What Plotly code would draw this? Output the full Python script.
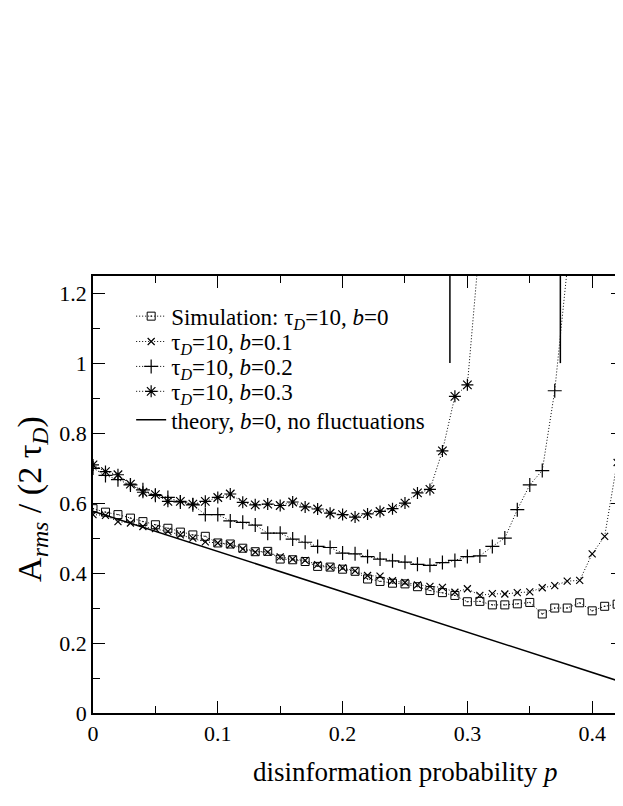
import plotly.graph_objects as go

# disinformation probability values (step 0.01)
p = [0.00, 0.01, 0.02, 0.03, 0.04, 0.05, 0.06, 0.07, 0.08, 0.09,
     0.10, 0.11, 0.12, 0.13, 0.14, 0.15, 0.16, 0.17, 0.18, 0.19,
     0.20, 0.21, 0.22, 0.23, 0.24, 0.25, 0.26, 0.27, 0.28, 0.29,
     0.30, 0.31, 0.32, 0.33, 0.34, 0.35, 0.36, 0.37, 0.38, 0.39,
     0.40, 0.41, 0.42, 0.43]

# simulation, tau_D=10, b=0
a_b0 = [0.584, 0.574, 0.567, 0.557, 0.547, 0.538, 0.528, 0.517, 0.509, 0.505,
        0.486, 0.483, 0.471, 0.461, 0.462, 0.440, 0.438, 0.433, 0.419, 0.417,
        0.411, 0.405, 0.383, 0.376, 0.371, 0.369, 0.361, 0.350, 0.344, 0.336,
        0.318, 0.319, 0.309, 0.309, 0.312, 0.316, 0.283, 0.300, 0.300, 0.315,
        0.292, 0.305, 0.311]

# tau_D=10, b=0.1
a_b1 = [0.567, 0.565, 0.547, 0.543, 0.533, 0.527, 0.519, 0.509, 0.500, 0.489,
        0.486, 0.481, 0.469, 0.460, 0.460, 0.446, 0.440, 0.436, 0.424, 0.417,
        0.415, 0.406, 0.393, 0.391, 0.378, 0.373, 0.366, 0.362, 0.359, 0.345,
        0.355, 0.336, 0.341, 0.340, 0.344, 0.346, 0.358, 0.364, 0.377, 0.379,
        0.455, 0.505, 0.716, 0.960]

# tau_D=10, b=0.2
a_b2 = [0.700, 0.679, 0.667, 0.652, 0.638, 0.622, 0.616, 0.603, 0.595, 0.567,
        0.567, 0.549, 0.545, 0.537, 0.514, 0.514, 0.497, 0.488, 0.476, 0.473,
        0.457, 0.455, 0.447, 0.440, 0.435, 0.431, 0.425, 0.422, 0.430, 0.436,
        0.447, 0.449, 0.476, 0.500, 0.581, 0.652, 0.693, 0.921, 1.270]

# tau_D=10, b=0.3
a_b3 = [0.709, 0.690, 0.681, 0.654, 0.631, 0.624, 0.605, 0.605, 0.597, 0.605,
        0.616, 0.626, 0.602, 0.595, 0.597, 0.593, 0.603, 0.589, 0.583, 0.571,
        0.567, 0.560, 0.569, 0.576, 0.584, 0.600, 0.629, 0.639, 0.749, 0.905,
        0.938, 1.350]

# theory, b=0, no fluctuations
theory_p = [0.0, 0.425]
theory_a = [0.577, 0.087]

# vertical marks near the top
vline_p = [0.286, 0.3745]
vline_a = [1.0, 1.3]

font_family = "Liberation Serif"

dotted = dict(color="black", width=1, dash="1px,2px")

fig = go.Figure()

fig.add_trace(go.Scatter(
    x=p[:len(a_b0)], y=a_b0, mode="lines+markers", legend="legend",
    name="Simulation: τ<sub><i>D</i></sub>=10, <i>b</i>=0",
    line=dotted,
    marker=dict(symbol="square-open-dot", size=8, color="black",
                line=dict(width=1, color="black")),
))
fig.add_trace(go.Scatter(
    x=p[:len(a_b1)], y=a_b1, mode="lines+markers", legend="legend2",
    name="τ<sub><i>D</i></sub>=10, <i>b</i>=0.1",
    line=dotted,
    marker=dict(symbol="x-thin-open", size=7, color="black",
                line=dict(width=1.2, color="black")),
))
fig.add_trace(go.Scatter(
    x=p[:len(a_b2)], y=a_b2, mode="lines+markers", legend="legend3",
    name="τ<sub><i>D</i></sub>=10, <i>b</i>=0.2",
    line=dotted,
    marker=dict(symbol="cross-thin-open", size=10, color="black",
                line=dict(width=1.2, color="black")),
))
fig.add_trace(go.Scatter(
    x=p[:len(a_b3)], y=a_b3, mode="lines+markers", legend="legend4",
    name="τ<sub><i>D</i></sub>=10, <i>b</i>=0.3",
    line=dotted,
    marker=dict(symbol="asterisk-open", size=10, color="black",
                line=dict(width=1.2, color="black")),
))
fig.add_trace(go.Scatter(
    x=theory_p, y=theory_a, mode="lines", legend="legend5",
    name="theory, <i>b</i>=0, no fluctuations",
    line=dict(color="black", width=1.5),
))
for vp in vline_p:
    fig.add_trace(go.Scatter(
        x=[vp, vp], y=vline_a, mode="lines", showlegend=False,
        line=dict(color="black", width=1.5),
    ))

axis_common = dict(
    showgrid=False, zeroline=False, automargin=False,
    showline=True, linecolor="black", linewidth=1.5,
    ticks="inside", ticklen=12, tickwidth=1, tickcolor="black",
    mirror="ticks",
    tickfont=dict(family=font_family, size=22, color="black"),
)

fig.update_xaxes(
    range=[0, 0.4247], dtick=0.1, tick0=0,
    minor=dict(dtick=0.05, ticks="inside", ticklen=7, tickcolor="black", tickwidth=1),
    **axis_common,
)
fig.update_yaxes(
    range=[0, 1.249], dtick=0.2, tick0=0,
    minor=dict(dtick=0.1, ticks="inside", ticklen=7, tickcolor="black", tickwidth=1),
    **axis_common,
)

# axis titles as annotations (the original x axis ran past the visible edge)
fig.add_annotation(
    text="disinformation probability <i>p</i>",
    xref="paper", yref="paper", x=0.589, y=-0.135, xanchor="center", yanchor="middle",
    showarrow=False,
    font=dict(family=font_family, size=27, color="black"),
)
fig.add_annotation(
    text="A<sub><i>rms</i></sub> / (2 τ<sub><i>D</i></sub>)",
    xref="paper", yref="paper", x=-0.115, y=0.49, xanchor="center", yanchor="middle",
    textangle=-90, showarrow=False,
    font=dict(family=font_family, size=34, color="black"),
)

# one legend per entry so the rows can sit closer together
legend_rows = {}
for i, row_y in enumerate([0.908, 0.850, 0.793, 0.736, 0.671]):
    key = "legend" if i == 0 else "legend%d" % (i + 1)
    legend_rows[key] = dict(
        x=0.072, y=row_y, xanchor="left", yanchor="middle",
        bgcolor="rgba(0,0,0,0)",
        font=dict(family=font_family, size=23, color="black"),
        itemwidth=30,
    )

# the page body adds an 8px offset, so the figure is a bit smaller than the window
fig.update_layout(
    width=615, height=798,
    margin=dict(l=85, r=0, t=268, b=93),
    plot_bgcolor="white", paper_bgcolor="white",
    font=dict(family=font_family, color="black"),
    showlegend=True,
    **legend_rows,
)

fig.write_html("out.html")
